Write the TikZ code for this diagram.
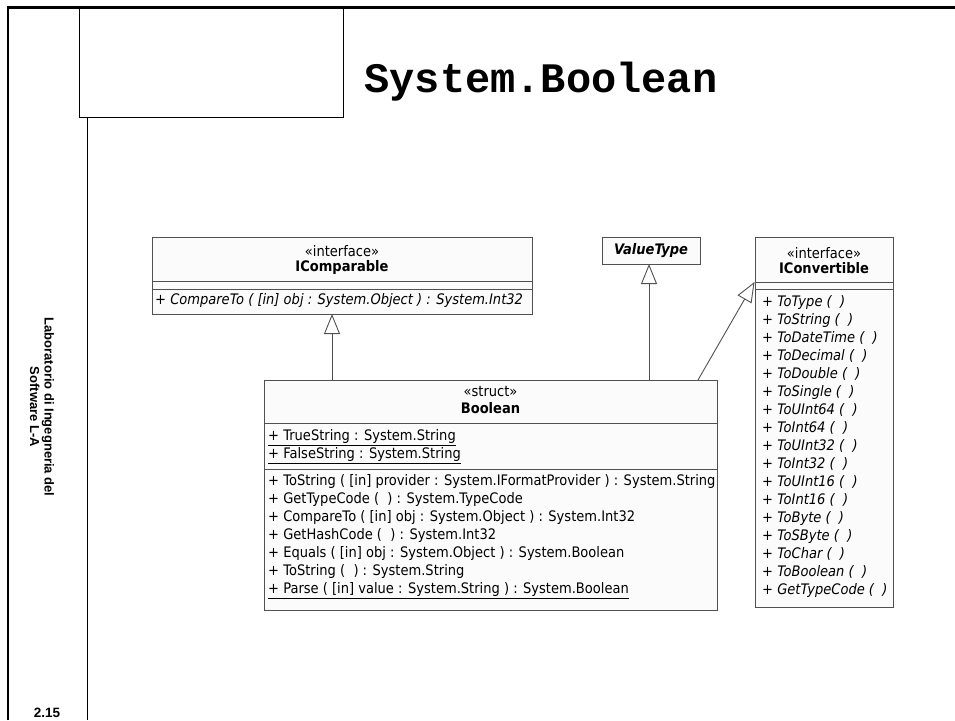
\documentclass[tikz,border=0pt]{standalone}
\usepackage{fontspec}
\usetikzlibrary{arrows.meta,calc}
\setmainfont{Liberation Sans}
\newfontfamily\umlfont[FakeStretch=0.9]{DejaVu Sans}
\newfontfamily\titlefont{Liberation Mono}

\definecolor{umlline}{HTML}{505050}
\definecolor{umlfill}{HTML}{FBFBFB}

\tikzset{
  frameline/.style={line width=2.7pt, black},
  thinframe/.style={line width=1pt, black},
  classbox/.style={draw=umlline, fill=umlfill, line width=0.9pt, inner sep=0pt,
    outer sep=0pt, anchor=north west},
  compsep/.style={draw=umlline, line width=0.9pt},
  umltext/.style={inner sep=0pt, anchor=mid west,
    font=\umlfont\fontsize{14.5}{16}\selectfont},
  umlhead/.style={inner sep=0pt, anchor=mid,
    font=\umlfont\fontsize{14.5}{16}\selectfont},
  umlname/.style={umlhead, font=\umlfont\bfseries\fontsize{14.5}{16}\selectfont},
  gen/.style={draw=umlline, line width=0.9pt,
    -{Triangle[open, length=20pt, width=16pt, fill=white]}},
}

\begin{document}
\begin{tikzpicture}[x=1pt,y=-1pt]
\useasboundingbox (0,0) rectangle (955,720);

% slide frame
\draw[frameline] (8,720) -- (8,7.3) -- (955,7.3);
\draw[thinframe] (79.3,7.3) rectangle (343.7,117.7);
\draw[thinframe] (87.3,117.7) -- (87.3,720);

% title
\node[inner sep=0pt, anchor=base, font=\titlefont\bfseries\fontsize{42}{44}\selectfont]
  (title) at (541,92) {System.Boolean};

% side labels
\node[rotate=-90, align=center, inner sep=0pt,
  font=\bfseries\fontsize{13}{14.5}\selectfont] (course) at (42,407)
  {Laboratorio di Ingegneria del\\Software L-A};
\node[inner sep=0pt, font=\bfseries\fontsize{13.5}{15}\selectfont] (page) at (47,713) {2.15};

% IComparable
\node[classbox, minimum width=380pt, minimum height=77pt] (icomp) at (152,237) {};
\node[umlhead] (icomp-st) at (342,254) {«interface»};
\node[umlname] (icomp-nm) at (342,269) {IComparable};
\draw[compsep] ($(icomp.north west)+(0,44)$) -- ($(icomp.north east)+(0,44)$);
\draw[compsep] ($(icomp.north west)+(0,52)$) -- ($(icomp.north east)+(0,52)$);
\node[umltext] (icomp-op1) at (155,302) {\itshape + CompareTo ( [in] obj : System.Object ) : System.Int32};

% ValueType
\node[classbox, minimum width=98pt, minimum height=27pt,
  font=\umlfont\bfseries\itshape\fontsize{14.5}{16}\selectfont] (vt) at (602,237) {ValueType};

% IConvertible
\node[classbox, minimum width=138pt, minimum height=370pt] (iconv) at (755,237) {};
\node[umlhead] (iconv-st) at (824,256) {«interface»};
\node[umlname] (iconv-nm) at (824,271) {IConvertible};
\draw[compsep] ($(iconv.north west)+(0,45)$) -- ($(iconv.north east)+(0,45)$);
\draw[compsep] ($(iconv.north west)+(0,52)$) -- ($(iconv.north east)+(0,52)$);
\foreach \op [count=\i from 0] in {ToType, ToString, ToDateTime, ToDecimal, ToDouble,
    ToSingle, ToUInt64, ToInt64, ToUInt32, ToInt32, ToUInt16, ToInt16, ToByte,
    ToSByte, ToChar, ToBoolean, GetTypeCode}
  \node[umltext] (iconv-op\i) at (762,304+18*\i) {\itshape + \op\ (\ \ )};

% Boolean
\node[classbox, minimum width=453pt, minimum height=230pt] (bool) at (264,380) {};
\node[umlhead] (bool-st) at (490.5,394) {«struct»};
\node[umlname] (bool-nm) at (490.5,411) {Boolean};
\draw[compsep] ($(bool.north west)+(0,43)$) -- ($(bool.north east)+(0,43)$);
\draw[compsep] ($(bool.north west)+(0,89)$) -- ($(bool.north east)+(0,89)$);
\node[umltext] (bool-at1) at (268,438) {\underline{+ TrueString : System.String}};
\node[umltext] (bool-at2) at (268,456) {\underline{+ FalseString : System.String}};
\node[umltext] (bool-op1) at (268,483) {+ ToString ( [in] provider : System.IFormatProvider ) : System.String};
\node[umltext] (bool-op2) at (268,501) {+ GetTypeCode (\ \ ) : System.TypeCode};
\node[umltext] (bool-op3) at (268,519) {+ CompareTo ( [in] obj : System.Object ) : System.Int32};
\node[umltext] (bool-op4) at (268,537) {+ GetHashCode (\ \ ) : System.Int32};
\node[umltext] (bool-op5) at (268,555) {+ Equals ( [in] obj : System.Object ) : System.Boolean};
\node[umltext] (bool-op6) at (268,573) {+ ToString (\ \ ) : System.String};
\node[umltext] (bool-op7) at (268,591) {\underline{+ Parse ( [in] value : System.String ) : System.Boolean}};

% generalizations
\coordinate (g1) at (332,0);
\coordinate (g2) at (649,0);
\coordinate (g3) at (698,0);
\coordinate (g3t) at (754.5,282);
\draw[gen] (bool.north -| g1) -- (icomp.south -| g1);
\draw[gen] (bool.north -| g2) -- (vt.south -| g2);
\draw[gen] (bool.north -| g3) -- (g3t);
\end{tikzpicture}
\end{document}
